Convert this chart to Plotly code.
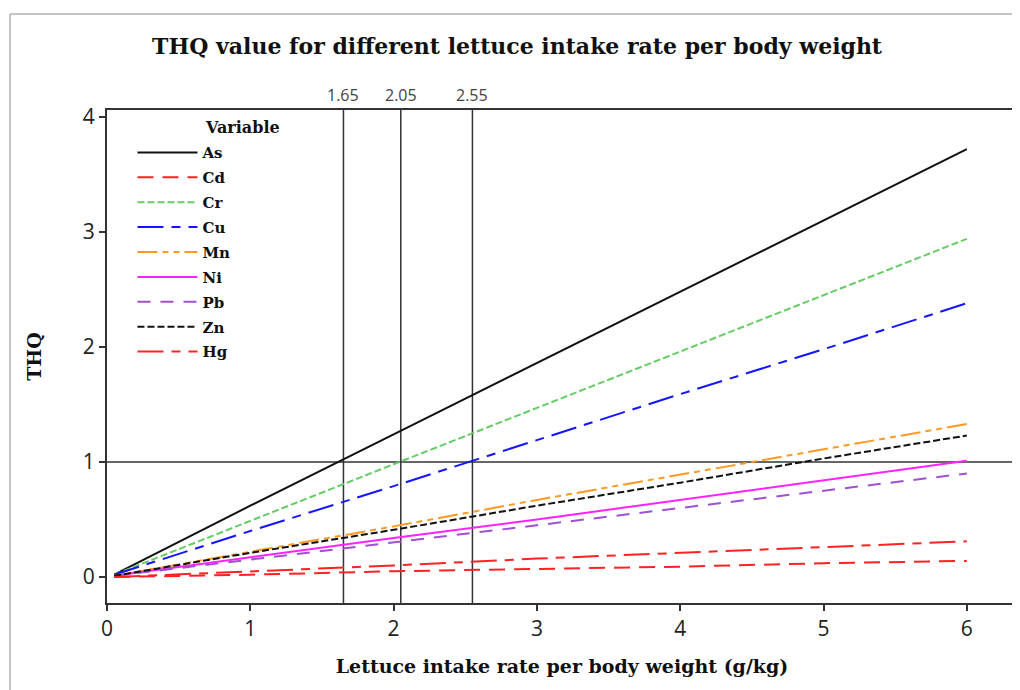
import plotly.graph_objects as go

# intake rate (g/kg body weight)
intake = [0.05, 1, 2, 3, 4, 5, 6]

# THQ values
thq_as = [0.02, 0.62, 1.24, 1.86, 2.48, 3.10, 3.72]
thq_cd = [0.00, 0.02, 0.05, 0.07, 0.09, 0.12, 0.14]
thq_cr = [0.02, 0.49, 0.98, 1.47, 1.96, 2.45, 2.94]
thq_cu = [0.02, 0.40, 0.79, 1.19, 1.59, 1.98, 2.38]
thq_mn = [0.01, 0.22, 0.44, 0.67, 0.89, 1.11, 1.33]
thq_ni = [0.01, 0.17, 0.34, 0.50, 0.67, 0.84, 1.01]
thq_pb = [0.01, 0.15, 0.30, 0.45, 0.60, 0.75, 0.90]
thq_zn = [0.01, 0.21, 0.41, 0.62, 0.82, 1.03, 1.23]
thq_hg = [0.00, 0.05, 0.10, 0.16, 0.21, 0.26, 0.31]

ref_x = [1.65, 2.05, 2.55]
ref_y = 1

series = [
    ("As", thq_as, "#111111", "solid"),
    ("Cd", thq_cd, "#ff2222", "16px,9px"),
    ("Cr", thq_cr, "#66cc66", "7px,3px"),
    ("Cu", thq_cu, "#1515ff", "26px,8px,9px,8px"),
    ("Mn", thq_mn, "#ff9922", "20px,5px,6px,5px,6px,5px"),
    ("Ni", thq_ni, "#ff22ff", "solid"),
    ("Pb", thq_pb, "#a050d0", "13px,10px"),
    ("Zn", thq_zn, "#111111", "7px,3px"),
    ("Hg", thq_hg, "#ff2222", "26px,8px,9px,8px"),
]

serif = "DejaVu Serif"
sans = "Open Sans"

fig = go.Figure()
for name, ys, color, dash in series:
    fig.add_trace(go.Scatter(x=intake, y=ys, mode="lines", name=name, legendgroup=name,
                             line=dict(color=color, width=2, dash=dash)))

for xv in ref_x:
    fig.add_vline(x=xv, line=dict(color="#333333", width=1.5), layer="below")
    fig.add_annotation(x=xv, y=1, xref="x", yref="paper", yanchor="bottom",
                       text=f"{xv:.2f}", showarrow=False, yshift=2,
                       font=dict(family=sans, size=16, color="#444444"))
fig.add_hline(y=ref_y, line=dict(color="#333333", width=1.5), layer="below")

# legend heading, aligned with the labels
fig.add_annotation(x=0.106, y=0.965, xref="paper", yref="paper",
                   xanchor="left", yanchor="middle", showarrow=False,
                   text="Variable", font=dict(family=serif, size=16, color="#111111", weight="bold"))

# outer gray frame (top and left)
fig.add_shape(type="line", xref="paper", yref="paper", x0=-0.1066, x1=1.01,
              y0=1.1947, y1=1.1947, line=dict(color="#c4c4c4", width=2))
fig.add_shape(type="line", xref="paper", yref="paper", x0=-0.1066, x1=-0.1066,
              y0=1.1947, y1=-0.2, line=dict(color="#c4c4c4", width=2))

# page body has an 8px margin, so the figure is a bit smaller than the window
fig.update_layout(
    width=1012, height=682,
    margin=dict(l=99, r=3, t=102, b=87, autoexpand=False),
    paper_bgcolor="white", plot_bgcolor="white",
    title=dict(text="THQ value for different lettuce intake rate per body weight",
               x=0.503, xanchor="center", y=0.944, yanchor="middle", yref="container",
               font=dict(family=serif, size=22, color="#111111", weight="bold")),
    legend=dict(x=0.028, y=0.947, xanchor="left", yanchor="top",
                bgcolor="rgba(0,0,0,0)", borderwidth=0, itemwidth=60,
                font=dict(family=serif, size=15, color="#111111", weight="bold"),
                tracegroupgap=2.4),
    showlegend=True,
)
fig.update_xaxes(range=[0, 6.35], tickvals=[0, 1, 2, 3, 4, 5, 6], automargin=False,
                 ticks="outside", ticklen=6, tickwidth=1.5, tickcolor="#333333",
                 showgrid=False, zeroline=False, mirror=True, showline=True,
                 linecolor="#333333", linewidth=2,
                 tickfont=dict(family=sans, size=21, color="#222222"),
                 title=dict(text="Lettuce intake rate per body weight (g/kg)",
                            font=dict(family=serif, size=19, color="#111111", weight="bold"),
                            standoff=18))
fig.update_yaxes(range=[-0.226, 4.06], tickvals=[0, 1, 2, 3, 4], automargin=False,
                 ticks="outside", ticklen=6, tickwidth=1.5, tickcolor="#333333",
                 showgrid=False, zeroline=False, mirror=True, showline=True,
                 linecolor="#333333", linewidth=2,
                 tickfont=dict(family=sans, size=21, color="#222222"),
                 title=dict(text="THQ", font=dict(family=serif, size=19, color="#111111", weight="bold"),
                            standoff=36))

fig.write_html("out.html")
